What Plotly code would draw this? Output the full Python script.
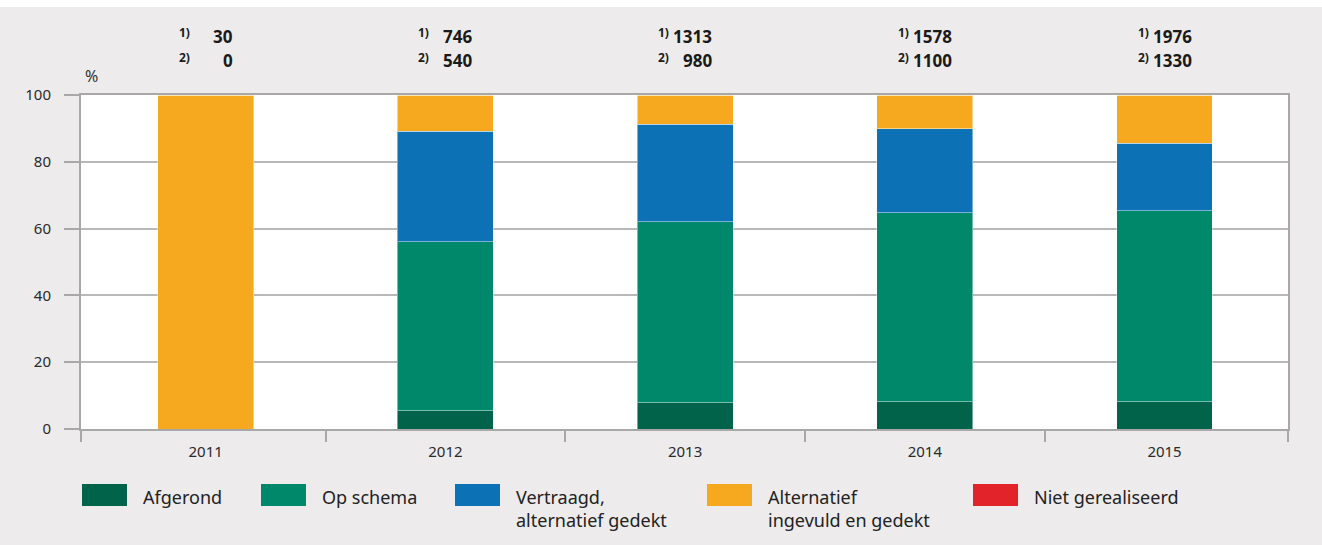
import plotly.graph_objects as go

years = ["2011", "2012", "2013", "2014", "2015"]
afgerond = [0, 5.4, 7.8, 8.1, 8.1]
op_schema = [0, 50.7, 54.2, 56.6, 57.2]
vertraagd = [0, 33.0, 29.3, 25.2, 20.3]
alternatief = [100, 10.9, 8.7, 10.1, 14.4]
niet_gerealiseerd = [0, 0, 0, 0, 0]
count_1 = ["30", "746", "1313", "1578", "1976"]
count_2 = ["0", "540", "980", "1100", "1330"]

series_names = ["Afgerond", "Op schema", "Vertraagd,<br>alternatief gedekt",
                "Alternatief<br>ingevuld en gedekt", "Niet gerealiseerd"]
series_values = [afgerond, op_schema, vertraagd, alternatief, niet_gerealiseerd]
series_colors = ["#00634a", "#00886a", "#0c71b5", "#f6a91e", "#e2232a"]

FONT = "Noto Sans"
W, H = 1322, 545
L, R, T, B = 81, 34, 95, 116
PW, PH = W - L - R, H - T - B

def px(x):
    return (x - L) / PW

def py(y):
    return (H - B - y) / PH

pos = list(range(len(years)))
boundaries = [-0.52] + [i + 0.5 for i in pos[:-1]] + [4.515]

fig = go.Figure()
for name, vals, col in zip(series_names, series_values, series_colors):
    fig.add_trace(go.Bar(
        x=pos, y=vals, name=name, showlegend=False, width=0.4,
        marker=dict(color=col, line=dict(color="rgba(255,255,255,0.45)", width=1)),
        hovertext=years, hoverinfo="text+y+name",
    ))

annotations = []
for i, (c1, c2) in enumerate(zip(count_1, count_2)):
    for label, val, ypix, lypix in (("1)", c1, 36, 33), ("2)", c2, 60, 57)):
        annotations.append(dict(
            x=i, xref="x", y=py(ypix), yref="paper", text="<b>%s</b>" % val,
            xanchor="right", yanchor="middle", xshift=29, showarrow=False,
            font=dict(family=FONT, size=17, color="#1a1a1a")))
        annotations.append(dict(
            x=i, xref="x", y=py(lypix), yref="paper", text="<b>%s</b>" % label,
            xanchor="right", yanchor="middle", xshift=-14, showarrow=False,
            font=dict(family=FONT, size=12, color="#1a1a1a")))

annotations.append(dict(
    x=px(83), y=py(76), xref="paper", yref="paper", text="%", showarrow=False,
    xanchor="left", yanchor="middle", font=dict(family=FONT, size=16, color="#333333")))

shapes = [dict(type="rect", xref="paper", yref="paper", x0=px(0), x1=px(W),
               y0=py(7), y1=py(0), fillcolor="white", line=dict(width=0), layer="above")]

legend_x = [82, 261, 455, 707, 973]
for lx, name, col in zip(legend_x, series_names, series_colors):
    shapes.append(dict(type="rect", xref="paper", yref="paper",
                       x0=px(lx), x1=px(lx + 45), y0=py(506), y1=py(484),
                       fillcolor=col, line=dict(width=0)))
    annotations.append(dict(
        x=px(lx + 59), y=py(483), xref="paper", yref="paper", text=name,
        xanchor="left", yanchor="top", align="left", showarrow=False,
        font=dict(family=FONT, size=18, color="#222222")))

fig.update_layout(
    width=W, height=H,
    margin=dict(l=L, r=R, t=T, b=B, pad=0),
    barmode="stack",
    paper_bgcolor="#edebec", plot_bgcolor="white",
    font=dict(family=FONT, size=15, color="#2a2a2a"),
    annotations=annotations, shapes=shapes,
    xaxis=dict(range=[boundaries[0], boundaries[-1]], tickvals=pos, ticktext=years,
               ticks="", ticklabelstandoff=8, showline=True, linecolor="#a8a8a8",
               linewidth=2, mirror=True, showgrid=False, zeroline=False,
               tickfont=dict(size=15),
               minor=dict(tickvals=boundaries, ticks="outside", ticklen=11,
                          tickwidth=2, tickcolor="#a8a8a8", showgrid=False)),
    yaxis=dict(range=[0, 100], tickvals=[0, 20, 40, 60, 80, 100], ticks="outside",
               ticklen=15, tickwidth=2, tickcolor="#a8a8a8", showline=True,
               linecolor="#a8a8a8", linewidth=2, mirror=True, showgrid=True,
               gridcolor="#b8b8b8", gridwidth=1.5, zeroline=False,
               ticklabelstandoff=10, tickfont=dict(size=15)),
)

fig.write_html("out.html", config={"displayModeBar": False},
               post_script="document.body.style.margin='0';")
